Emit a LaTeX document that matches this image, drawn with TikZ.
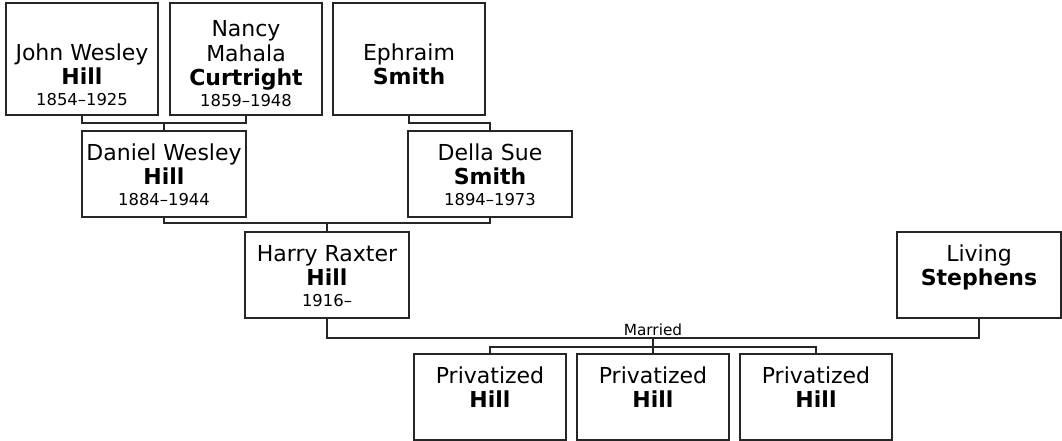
\documentclass[tikz,border=0pt]{standalone}
\usepackage{fontspec}
\setmainfont{DejaVu Sans}
\usetikzlibrary{calc}
\newcommand\lifedates[1]{{\fontsize{12.3}{12.3}\selectfont #1}}
\begin{document}
\begin{tikzpicture}[x=0.75pt,y=-0.75pt,
  box/.style={draw=black!85, line width=1.2pt, rectangle, inner sep=0pt, outer sep=0pt, fill=white},
  narrowtall/.style={box, minimum width=114pt, minimum height=84pt},
  widebox/.style={box, minimum width=123pt, minimum height=64.5pt},
  narrowbox/.style={box, minimum width=114pt, minimum height=64.5pt},
  nm/.style={font=\fontsize{16.5}{18.4}\selectfont, align=center, inner sep=0pt, anchor=north, text=black},
  conn/.style={draw=black!85, line width=1.2pt},
  marlabel/.style={font=\fontsize{11.5}{12}\selectfont, anchor=base, inner sep=0pt, text=black}
]
\useasboundingbox (0,0) rectangle (1062,441);

% boxes
\node[narrowtall] (john) at (82,59) {};
\node[narrowtall] (nancy) at (246,59) {};
\node[narrowtall] (ephraim) at (409,59) {};
\node[widebox] (daniel) at (164,174) {};
\node[widebox] (della) at (490,174) {};
\node[widebox] (harry) at (327,275) {};
\node[widebox] (living) at (979,275) {};
\node[narrowbox] (priv1) at (490,397) {};
\node[narrowbox] (priv2) at (653,397) {};
\node[narrowbox] (priv3) at (816,397) {};

% texts
\node[nm] (johnT) at ($(john.north)+(0,39.8)$) {\strut John Wesley\\\textbf{Hill}\\[-2.9pt]\lifedates{1854–1925}};
\node[nm] (nancyT) at ($(nancy.north)+(0,16.2)$) {\strut Nancy\\Mahala\\\textbf{Curtright}\\[-2.9pt]\lifedates{1859–1948}};
\node[nm] (ephraimT) at ($(ephraim.north)+(0,39.8)$) {\strut Ephraim\\\textbf{Smith}};
\node[nm] (danielT) at ($(daniel.north)+(0,11.8)$) {\strut Daniel Wesley\\\textbf{Hill}\\[-2.9pt]\lifedates{1884–1944}};
\node[nm] (dellaT) at ($(della.north)+(0,11.8)$) {\strut Della Sue\\\textbf{Smith}\\[-2.9pt]\lifedates{1894–1973}};
\node[nm] (harryT) at ($(harry.north)+(0,11.8)$) {\strut Harry Raxter\\\textbf{Hill}\\[-2.9pt]\lifedates{1916–}};
\node[nm] (livingT) at ($(living.north)+(0,11.8)$) {\strut Living\\\textbf{Stephens}};
\node[nm] (priv1T) at ($(priv1.north)+(0,11.8)$) {\strut Privatized\\\textbf{Hill}};
\node[nm] (priv2T) at ($(priv2.north)+(0,11.8)$) {\strut Privatized\\\textbf{Hill}};
\node[nm] (priv3T) at ($(priv3.north)+(0,11.8)$) {\strut Privatized\\\textbf{Hill}};

% connectors
\draw[conn] (john.south) -- ++(0,8) -| (nancy.south);
\draw[conn] (daniel.north) -- ++(0,-8);
\draw[conn] (ephraim.south) -- ++(0,8) -| (della.north);
\draw[conn] (daniel.south) -- ++(0,6) -| (della.south);
\draw[conn] (harry.north) -- ++(0,-9);
\draw[conn] (harry.south) -- ++(0,20) -| (living.south);
\draw[conn] (priv1.north) -- ++(0,-7) -| (priv3.north);
\draw[conn] (priv2.north) -- ++(0,-16);

\node[marlabel] (married) at (653,335) {Married};
\end{tikzpicture}
\end{document}
